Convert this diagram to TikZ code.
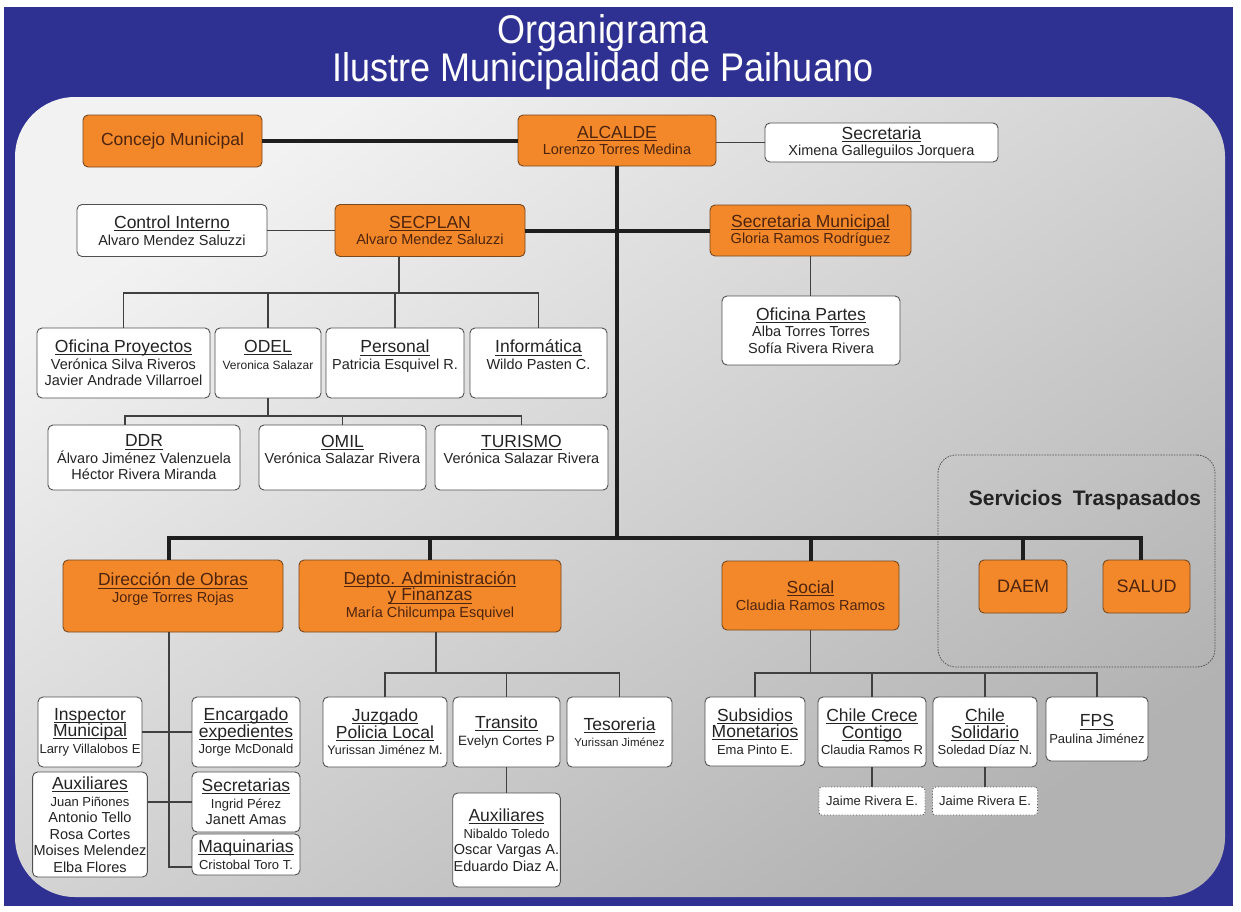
\documentclass[tikz,border=0pt]{standalone}
\usepackage{fontspec}
\usepackage{graphicx}
\setmainfont{Liberation Sans}

\definecolor{frameblue}{RGB}{46,49,146}
\definecolor{boxorange}{RGB}{242,136,42}
\definecolor{orangeline}{RGB}{120,72,30}
\definecolor{orangetext}{RGB}{78,36,14}
\definecolor{boxline}{RGB}{80,80,80}
\definecolor{boxtext}{RGB}{35,35,35}
\definecolor{linedark}{RGB}{30,30,30}

\newcommand{\hd}[1]{{\fontsize{17.5}{19.5}\selectfont\setbox0\hbox{#1}\rlap{\rule[-2.6pt]{\wd0}{0.9pt}}\box0}}
\newcommand{\nm}{\fontsize{14.5}{16.5}\selectfont}
\newcommand{\sm}{\fontsize{13}{14.5}\selectfont}

\tikzset{
	orgbox/.style={draw=boxline, fill=white, rounded corners=5pt, line width=0.9pt, align=center, inner sep=1pt, text=boxtext, font=\nm},
	orgorange/.style={orgbox, fill=boxorange, draw=orangeline, text=orangetext},
	orgdot/.style={orgbox, dotted, rounded corners=3pt},
	lineagruesa/.style={line width=4pt, draw=linedark},
	lineafina/.style={line width=1.3pt, draw=linedark!85}
}

\begin{document}
\begin{tikzpicture}[x=1pt, y=-1pt]
				\useasboundingbox (0,0) rectangle (1241,911);
				\fill[white] (0,0) rectangle (1241,911);
				\fill[frameblue] (4,7) rectangle (1233,906);
				\shade[rounded corners=60pt, top color=black!5, bottom color=black!30, shading angle=35] (15,97) rectangle (1225,897);

				\node[text=white, align=center, inner sep=0pt, font=\fontsize{40}{38}\selectfont] (titulo) at (603,52) {\scalebox{0.9}[1]{Organigrama}\\\scalebox{0.9}[1]{Ilustre Municipalidad de Paihuano}};

				% nivel superior
				\node[orgorange, minimum width=179, minimum height=52, font=\fontsize{17.5}{19.5}\selectfont] (concejo) at (172.5,141) {Concejo Municipal};
				\node[orgorange, minimum width=198, minimum height=51] (alcalde) at (617,140.5) {\hd{ALCALDE}\\Lorenzo Torres Medina};
				\node[orgbox, minimum width=233, minimum height=39] (secretaria) at (881.5,142.5) {\hd{Secretaria}\\Ximena Galleguilos Jorquera};
				\node[orgbox, minimum width=190, minimum height=52] (controlint) at (172,230.5) {\hd{Control Interno}\\Alvaro Mendez Saluzzi};
				\node[orgorange, minimum width=190, minimum height=52] (secplan) at (430,230.5) {\hd{SECPLAN}\\Alvaro Mendez Saluzzi};
				\node[orgorange, minimum width=201, minimum height=51] (secmun) at (810.5,230.5) {\hd{Secretaria Municipal}\\Gloria Ramos Rodríguez};
				\node[orgbox, minimum width=178, minimum height=69] (ofpartes) at (811,330.5) {\hd{Oficina Partes}\\Alba Torres Torres\\Sofía Rivera Rivera};

				% SECPLAN
				\node[orgbox, minimum width=173, minimum height=70] (ofproy) at (123.5,363) {\hd{Oficina Proyectos}\\Verónica Silva Riveros\\Javier Andrade Villarroel};
				\node[orgbox, minimum width=106, minimum height=70] (odel) at (268,363) {\hd{ODEL}\\{\fontsize{12}{16.5}\selectfont Veronica Salazar}\\\mbox{}};
				\node[orgbox, minimum width=138, minimum height=70] (personal) at (395,363) {\hd{Personal}\\Patricia Esquivel R.\\\mbox{}};
				\node[orgbox, minimum width=137, minimum height=70] (informatica) at (538.5,363) {\hd{Informática}\\Wildo Pasten C.\\\mbox{}};
				\node[orgbox, minimum width=192, minimum height=65] (ddr) at (144,457.5) {\hd{DDR}\\Álvaro Jiménez Valenzuela\\Héctor Rivera Miranda};
				\node[orgbox, minimum width=167, minimum height=65] (omil) at (342.5,457.5) {\hd{OMIL}\\Verónica Salazar Rivera\\\mbox{}};
				\node[orgbox, minimum width=173, minimum height=65] (turismo) at (521.5,457.5) {\hd{TURISMO}\\Verónica Salazar Rivera\\\mbox{}};

				% direcciones
				\node[orgorange, minimum width=220, minimum height=72] (direccion) at (173,596) {\hd{Dirección de Obras}\\Jorge Torres Rojas\\\mbox{}};
				\node[orgorange, minimum width=262, minimum height=72] (depto) at (430,596) {\hd{Depto. Administración}\\\hd{y Finanzas}\\María Chilcumpa Esquivel};
				\node[orgorange, minimum width=177, minimum height=69] (social) at (810.5,595.5) {\hd{Social}\\Claudia Ramos Ramos};
				\node[draw=boxline, dash pattern=on 1.5pt off 1.2pt, line width=0.8pt, rounded corners=18pt, minimum width=277, minimum height=212] (traspasados) at (1076.5,561) {};
				\node[text=boxtext, font=\fontsize{21}{24}\selectfont\bfseries] (servtitulo) at (1085,500) {Servicios\hspace{0.5em}Traspasados};
				\node[orgorange, minimum width=88, minimum height=53, font=\fontsize{18}{20}\selectfont] (daem) at (1023,586.5) {DAEM};
				\node[orgorange, minimum width=87, minimum height=53, font=\fontsize{18}{20}\selectfont] (salud) at (1146.5,586.5) {SALUD};

				% Obras
				\node[orgbox, minimum width=104, minimum height=70] (inspector) at (90,732) {\hd{Inspector}\\\hd{Municipal}\\\sm Larry Villalobos E};
				\node[orgbox, minimum width=108, minimum height=70] (encargado) at (246,732) {\hd{Encargado}\\\hd{expedientes}\\\sm Jorge McDonald};
				\node[orgbox, minimum width=104, minimum height=105] (auxobras) at (90,824.5) {\hd{Auxiliares}\\\sm Juan Piñones\\Antonio Tello\\Rosa Cortes\\Moises Melendez\\Elba Flores};
				\node[orgbox, minimum width=108, minimum height=60] (secretarias) at (246,802) {\hd{Secretarias}\\\sm Ingrid Pérez\\Janett Amas};
				\node[orgbox, minimum width=108, minimum height=41] (maquinarias) at (246,854.5) {\hd{Maquinarias}\\\sm Cristobal Toro T.};

				% Administracion y Finanzas
				\node[orgbox, minimum width=124, minimum height=70] (juzgado) at (385,732) {\hd{Juzgado}\\\hd{Policia Local}\\{\fontsize{12.5}{15}\selectfont Yurissan Jiménez M.}};
				\node[orgbox, minimum width=107, minimum height=70] (transito) at (506.5,732) {\hd{Transito}\\{\fontsize{13.5}{16}\selectfont Evelyn Cortes P}};
				\node[orgbox, minimum width=105, minimum height=70] (tesoreria) at (619.5,732) {\hd{Tesoreria}\\{\fontsize{11.5}{15}\selectfont Yurissan Jiménez}};
				\node[orgbox, minimum width=107, minimum height=94] (auxtransito) at (506.5,840) {\hd{Auxiliares}\\\sm Nibaldo Toledo\\Oscar Vargas A.\\Eduardo Diaz A.};

				% Social
				\node[orgbox, minimum width=100, minimum height=69] (subsidios) at (755,731.5) {\hd{Subsidios}\\\hd{Monetarios}\\\sm Ema Pinto E.};
				\node[orgbox, minimum width=108, minimum height=70] (chilecrece) at (872,732) {\hd{Chile Crece}\\\hd{Contigo}\\\sm Claudia Ramos R};
				\node[orgbox, minimum width=104, minimum height=70] (chilesol) at (985,732) {\hd{Chile}\\\hd{Solidario}\\\sm Soledad Díaz N.};
				\node[orgbox, minimum width=102, minimum height=64] (fps) at (1097,729) {\hd{FPS}\\\sm Paulina Jiménez};
				\node[orgdot, minimum width=106, minimum height=28, font=\sm] (jaime1) at (872,801) {Jaime Rivera E.};
				\node[orgdot, minimum width=105, minimum height=28, font=\sm] (jaime2) at (985,801) {Jaime Rivera E.};

				\coordinate (busizq) at (169,538);
				\coordinate (busder) at (1141,538);
				\coordinate (bussecplan) at (399,293);
				\coordinate (busodel) at (268,416);
				\coordinate (ddrbaja) at (125,416);
				\coordinate (busdepto) at (436,673);
				\coordinate (bussocial) at (810.5,673);
				\coordinate (dirbaja) at (169,867);

				\draw[lineagruesa] (concejo.east) -- (concejo.east -| alcalde.west);
				\draw[lineagruesa] (alcalde.south) -- (alcalde.south |- busizq);
				\draw[lineagruesa] (secplan.east) -- (secmun.west);
				\draw[lineagruesa] (direccion.north -| busizq) |- (busder) -- (salud.north -| busder);
				\draw[lineagruesa] (depto.north) -- (depto.north |- busizq);
				\draw[lineagruesa] (social.north) -- (social.north |- busizq);
				\draw[lineagruesa] (daem.north) -- (daem.north |- busizq);

				\draw[lineafina]
					(alcalde.east |- secretaria.west) -- (secretaria.west)
					(controlint.east) -- (secplan.west)
					(secmun.south) -- (secmun.south |- ofpartes.north)
					(secplan.south -| bussecplan) -- (bussecplan)
					(ofproy.north) |- (bussecplan) -| (informatica.north)
					(odel.north) -- (odel.north |- bussecplan)
					(personal.north) -- (personal.north |- bussecplan)
					(odel.south) -- (busodel)
					(ddr.north -| ddrbaja) -- (ddrbaja) -| (turismo.north)
					(omil.north) -- (omil.north |- busodel)
					(direccion.south -| dirbaja) -- (dirbaja) -- (dirbaja -| maquinarias.west)
					(inspector.east) -- (encargado.west)
					(auxobras.east |- secretarias.west) -- (secretarias.west)
					(depto.south -| busdepto) -- (busdepto)
					(juzgado.north) |- (busdepto) -| (tesoreria.north)
					(transito.north) -- (transito.north |- busdepto)
					(transito.south) -- (auxtransito.north)
					(social.south) -- (bussocial)
					(subsidios.north) |- (bussocial) -| (fps.north)
					(chilecrece.north) -- (chilecrece.north |- bussocial)
					(chilesol.north) -- (chilesol.north |- bussocial)
					(chilecrece.south) -- (jaime1.north)
					(chilesol.south) -- (jaime2.north);

			\end{tikzpicture}
\end{document}
